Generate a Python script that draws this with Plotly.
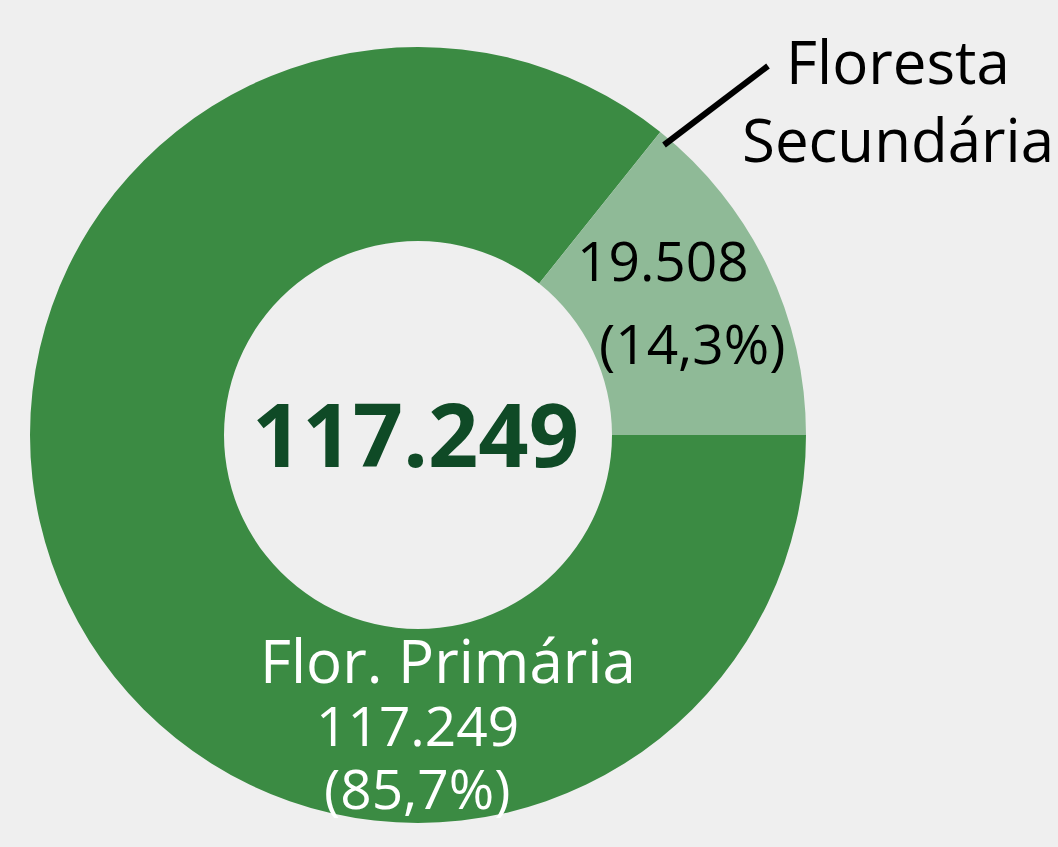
import plotly.graph_objects as go

# ---- data ----
labels = ["Flor. Primária", "Floresta Secundária"]
values = [117249, 19508]
colors = ["#3b8b43", "#8fba97"]
center_value = 117249

W, H = 1058, 847
FONT = "Open Sans"

def fmt_int(v):
    return f"{v:,}".replace(",", ".")

total = sum(values)
pcts = [f"({v / total * 100:.1f}%)".replace(".", ",") for v in values]

def px(x):
    return x / W

def py(y):
    return 1 - y / H

fig = go.Figure(go.Pie(
    labels=labels,
    values=values,
    hole=0.5,
    sort=False,
    direction="clockwise",
    rotation=90,
    marker=dict(colors=colors, line=dict(width=0)),
    textinfo="none",
    hoverinfo="label+value+percent",
    showlegend=False,
    domain=dict(x=[px(30), px(806)], y=[py(823), py(47)]),
))

ann = []
# center total
ann.append(dict(text=f"<b>{fmt_int(center_value)}</b>", x=px(415), y=py(433),
                font=dict(size=88, color="#0f4a26", family=FONT)))
# primary labels (white, inside ring bottom)
ann.append(dict(text=labels[0], x=px(448), y=py(660),
                font=dict(size=60, color="white", family=FONT)))
ann.append(dict(text=fmt_int(values[0]), x=px(417), y=py(724),
                font=dict(size=55, color="white", family=FONT)))
ann.append(dict(text=pcts[0], x=px(417), y=py(787),
                font=dict(size=55, color="white", family=FONT)))
# secondary labels (black, inside slice)
ann.append(dict(text=fmt_int(values[1]), x=px(663), y=py(260),
                font=dict(size=55, color="black", family=FONT)))
ann.append(dict(text=pcts[1], x=px(692), y=py(342),
                font=dict(size=55, color="black", family=FONT)))
# outside label
ann.append(dict(text="Floresta<br>Secundária", x=px(898), y=py(100),
                font=dict(size=60, color="black", family=FONT)))

for a in ann:
    a.update(xref="paper", yref="paper", showarrow=False,
             xanchor="center", yanchor="middle")

fig.update_layout(
    width=W, height=H,
    margin=dict(l=0, r=0, t=0, b=0),
    paper_bgcolor="#efefef",
    plot_bgcolor="#efefef",
    annotations=ann,
    shapes=[dict(type="line", xref="paper", yref="paper",
                 x0=px(664), y0=py(145), x1=px(768), y1=py(66),
                 line=dict(color="black", width=6))],
)

fig.write_html("out.html",
               config={"displayModeBar": False},
               post_script="document.body.style.margin='0';document.body.style.background='#efefef';")
